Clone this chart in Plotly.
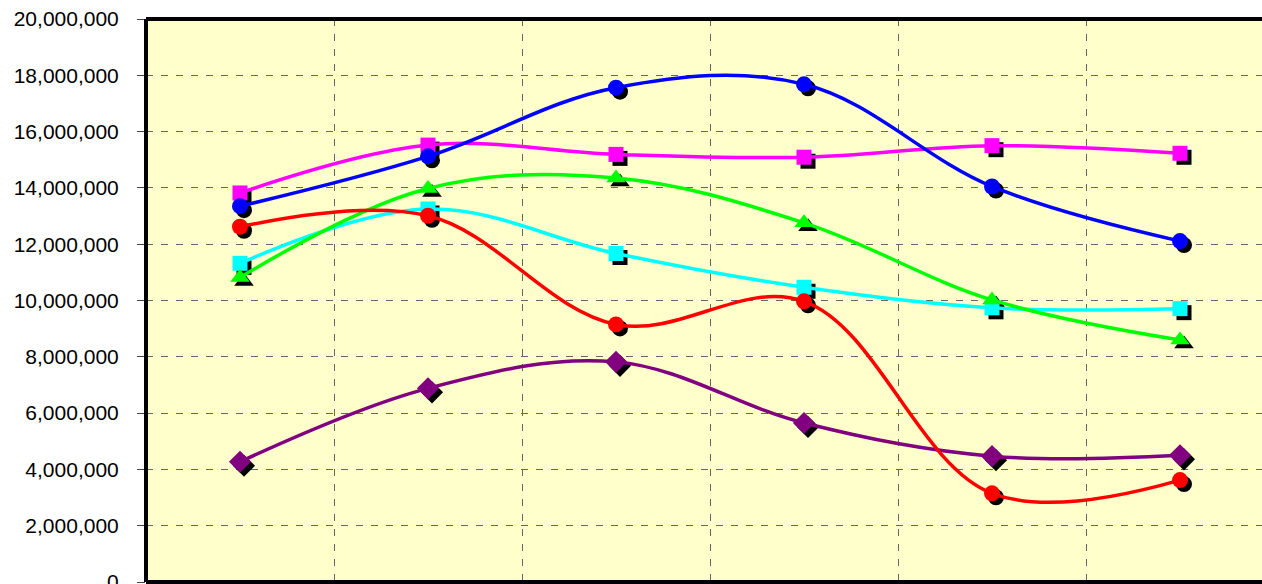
import plotly.graph_objects as go

# Six periods along the horizontal axis (no labels are shown for them)
categories = [0, 1, 2, 3, 4, 5]

blue_values = [13350000, 15120000, 17560000, 17680000, 14050000, 12110000]
magenta_values = [13820000, 15520000, 15190000, 15090000, 15500000, 15230000]
red_values = [12620000, 13010000, 9150000, 9970000, 3150000, 3620000]
cyan_values = [11320000, 13250000, 11670000, 10470000, 9740000, 9710000]
green_values = [10820000, 13980000, 14350000, 12760000, 10020000, 8600000]
purple_values = [4270000, 6880000, 7820000, 5650000, 4470000, 4500000]

y_ticks = [0, 2000000, 4000000, 6000000, 8000000, 10000000,
           12000000, 14000000, 16000000, 18000000, 20000000]

series = [
    ("purple", purple_values, "#800080", "diamond", 17),
    ("cyan", cyan_values, "#00FFFF", "square", 15),
    ("green", green_values, "#00FF00", "triangle-up", 17),
    ("red", red_values, "#FF0000", "circle", 16),
    ("magenta", magenta_values, "#FF00FF", "square", 15),
    ("blue", blue_values, "#0000FF", "circle", 16),
]

W, H = 1262, 584
M_L, M_R, M_T, M_B = 146, 0, 19, 2
plot_w = W - M_L - M_R
plot_h = H - M_T - M_B
band_px = 188.0
x_range = [-0.5, -0.5 + plot_w / band_px]
y_range = [0, 20000000]

# drop shadow offset in pixels, turned into axis units
shadow_px = 4
dx = shadow_px / band_px
dy = shadow_px * (y_range[1] - y_range[0]) / plot_h

fig = go.Figure()

# shadows live on the base axes, whose ranges are shifted
for name, vals, color, symbol, size in series:
    fig.add_trace(go.Scatter(
        x=categories, y=vals, mode="markers", xaxis="x", yaxis="y",
        marker=dict(symbol=symbol, size=size, color="black", line=dict(width=0)),
        hoverinfo="skip", showlegend=False,
    ))

# the smoothed series on top
for name, vals, color, symbol, size in series:
    fig.add_trace(go.Scatter(
        x=categories, y=vals, mode="lines+markers", name=name,
        xaxis="x2", yaxis="y2",
        line=dict(color=color, width=3.5, shape="spline", smoothing=1.05),
        marker=dict(symbol=symbol, size=size, color=color, line=dict(width=0)),
        showlegend=False,
    ))

grid_color = "#666666"
fig.update_layout(
    width=W, height=H,
    margin=dict(l=M_L, r=M_R, t=M_T, b=M_B, autoexpand=False),
    paper_bgcolor="white",
    plot_bgcolor="#FFFFCC",
    showlegend=False,
    font=dict(family="Liberation Sans, Arial, sans-serif", size=21, color="black"),
    xaxis=dict(range=[x_range[0] - dx, x_range[1] - dx], visible=False,
               showgrid=False, zeroline=False, automargin=False),
    yaxis=dict(range=[y_range[0] + dy, y_range[1] + dy], visible=False,
               showgrid=False, zeroline=False, automargin=False),
    xaxis2=dict(range=x_range, overlaying="x", side="bottom",
                tickvals=[0.5, 1.5, 2.5, 3.5, 4.5], showticklabels=False,
                ticks="", showgrid=True, gridcolor=grid_color, gridwidth=1,
                griddash="7px,8px", zeroline=False, showline=False,
                automargin=False),
    yaxis2=dict(range=y_range, overlaying="y", side="left",
                tickvals=y_ticks, tickformat=",d",
                ticks="outside", ticklen=8, tickcolor="#444444", tickwidth=1,
                ticklabelstandoff=14, ticklabeloverflow="allow",
                automargin=False,
                showgrid=True, gridcolor=grid_color, gridwidth=1,
                griddash="7px,8px", zeroline=False, showline=False),
    shapes=[
        dict(type="line", xref="paper", yref="paper", x0=0, x1=0, y0=0, y1=1,
             line=dict(color="black", width=4), layer="above"),
        dict(type="line", xref="paper", yref="paper", x0=0, x1=1, y0=1, y1=1,
             line=dict(color="black", width=4), layer="above"),
        dict(type="line", xref="paper", yref="paper", x0=0, x1=1, y0=0, y1=0,
             line=dict(color="black", width=4), layer="above"),
    ],
)

fig.write_html("out.html")
